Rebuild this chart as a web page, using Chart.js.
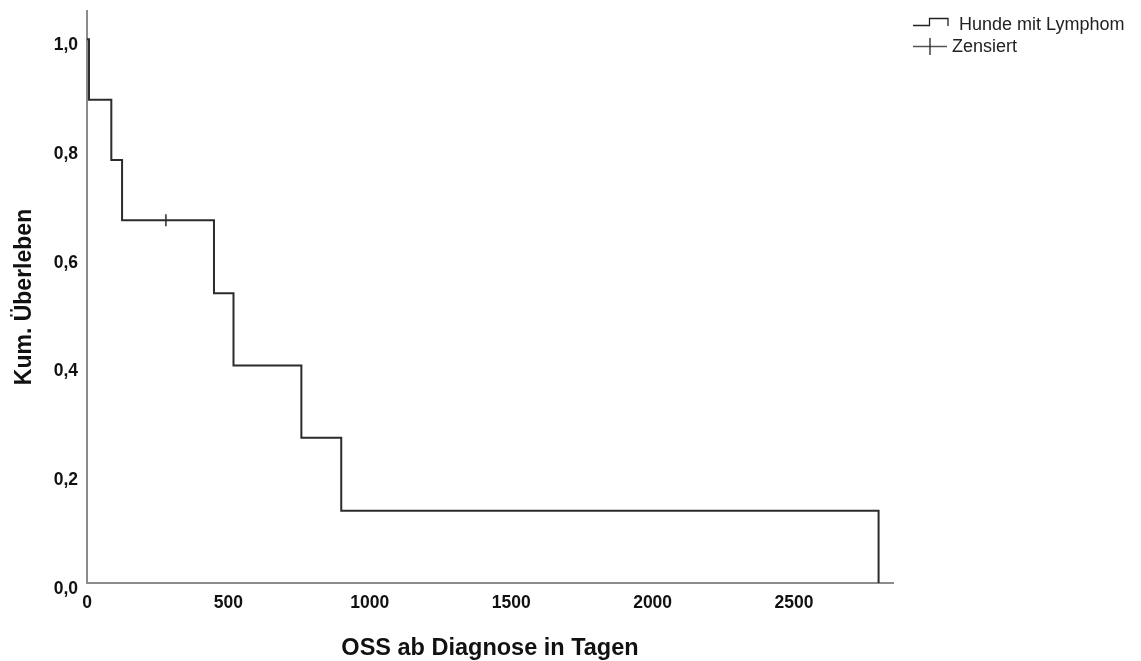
<!DOCTYPE html>
<html>
<head>
<meta charset="utf-8">
<script src="https://cdn.jsdelivr.net/npm/chart.js@4/dist/chart.umd.min.js"></script>
<style>
  html, body { margin: 0; padding: 0; background: #ffffff; }
  #wrap { position: relative; width: 1141px; height: 661px; }
</style>
</head>
<body>
<div id="wrap"><canvas id="c" width="1141" height="661"></canvas></div>
<script>
// Kaplan-Meier estimate: event times (days) and cumulative survival
const eventTimes = [0, 7, 86, 124, 449, 518, 758, 899, 2799];
const survival   = [1.0, 0.889, 0.778, 0.667, 0.533, 0.400, 0.267, 0.133, 0.0];
// censored observations
const censorTimes = [279];
const censorSurv  = [0.667];
// axis ticks
const xTicks = [0, 500, 1000, 1500, 2000, 2500];
const yTicks = [0, 0.2, 0.4, 0.6, 0.8, 1.0];
const seriesLabel = 'Hunde mit Lymphom';
const censorLabel = 'Zensiert';
const xTitle = 'OSS ab Diagnose in Tagen';
const yTitle = 'Kum. Überleben';

const FONT = "Arial, 'Liberation Sans', sans-serif";

const kmData = eventTimes.map((t, i) => ({ x: t, y: survival[i] }));
const censorData = censorTimes.map((t, i) => ({ x: t, y: censorSurv[i] }));

const legendPlugin = {
  id: 'kmLegend',
  afterDraw(chart) {
    const ctx = chart.ctx;
    ctx.save();
    // step icon
    ctx.strokeStyle = '#222';
    ctx.lineWidth = 1.3;
    ctx.beginPath();
    ctx.moveTo(913, 25.5);
    ctx.lineTo(929.5, 25.5);
    ctx.lineTo(929.5, 18.5);
    ctx.lineTo(948, 18.5);
    ctx.lineTo(948, 26);
    ctx.stroke();
    // censor icon
    ctx.strokeStyle = '#555';
    ctx.beginPath();
    ctx.moveTo(913, 46.5);
    ctx.lineTo(947, 46.5);
    ctx.stroke();
    ctx.strokeStyle = '#222';
    ctx.beginPath();
    ctx.moveTo(930, 38);
    ctx.lineTo(930, 55);
    ctx.stroke();
    ctx.fillStyle = '#222';
    ctx.font = '18px ' + FONT;
    ctx.textBaseline = 'middle';
    ctx.textAlign = 'left';
    ctx.fillText(seriesLabel, 959, 25);
    ctx.fillText(censorLabel, 952, 47);
    ctx.restore();
  }
};

new Chart(document.getElementById('c'), {
  type: 'line',
  data: {
    datasets: [
      {
        label: seriesLabel,
        data: kmData,
        stepped: 'before',
        borderColor: '#2b2b2b',
        borderWidth: 2,
        pointRadius: 0,
        fill: false
      },
      {
        label: censorLabel,
        type: 'scatter',
        data: censorData,
        pointStyle: 'line',
        rotation: 90,
        pointRadius: 6,
        borderColor: '#2b2b2b',
        borderWidth: 1.5,
        showLine: false
      }
    ]
  },
  plugins: [legendPlugin],
  options: {
    responsive: false,
    animation: false,
    layout: { padding: { left: 0, right: 248, top: 11, bottom: 0 } },
    plugins: {
      legend: { display: false },
      tooltip: { enabled: false }
    },
    scales: {
      x: {
        type: 'linear',
        min: 0,
        max: 2850,
        afterBuildTicks: (s) => { s.ticks = xTicks.map(v => ({ value: v })); },
        afterFit: (s) => { s.height = 78; s.paddingLeft = 0; s.paddingRight = 0; },
        grid: { display: false, drawTicks: false },
        border: { display: true, color: '#8c8c8c', width: 2 },
        ticks: {
          padding: 10,
          color: '#111',
          font: { family: FONT, size: 17.5, weight: 'bold' },
          maxRotation: 0,
          callback: (v) => String(v)
        },
        title: {
          display: true,
          text: xTitle,
          color: '#111',
          font: { family: FONT, size: 23.5, weight: 'bold' },
          padding: { top: 0, bottom: -2 }
        }
      },
      y: {
        type: 'linear',
        min: 0,
        max: 1.052,
        afterBuildTicks: (s) => { s.ticks = yTicks.map(v => ({ value: v })); },
        afterFit: (s) => { s.width = 87; s.paddingTop = 0; s.paddingBottom = 0; },
        grid: { display: false, drawTicks: false },
        border: { display: true, color: '#8c8c8c', width: 2 },
        ticks: {
          padding: 9,
          labelOffset: 6,
          color: '#111',
          font: { family: FONT, size: 17.5, weight: 'bold' },
          callback: (v) => Number(v).toFixed(1).replace('.', ',')
        },
        title: {
          display: true,
          text: yTitle,
          color: '#111',
          font: { family: FONT, size: 23, weight: 'bold' },
          padding: { top: 11, bottom: 0 }
        }
      }
    }
  }
});
</script>
</body>
</html>
